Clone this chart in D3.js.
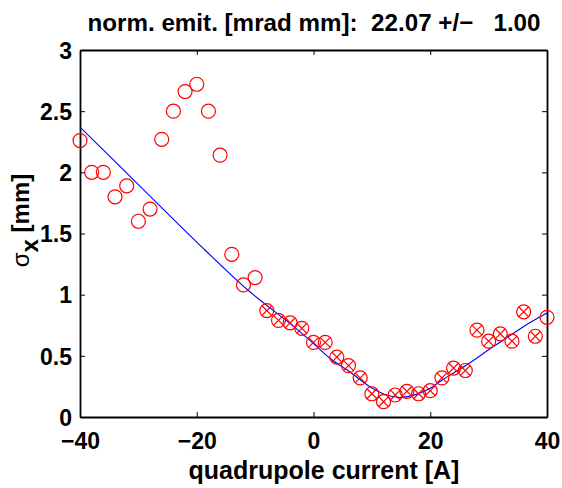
<!DOCTYPE html>
<html>
<head>
<meta charset="utf-8">
<script src="https://cdn.jsdelivr.net/npm/d3@7"></script>
<style>
  body { margin: 0; background: #fff; }
  text { font-family: "Liberation Sans", Arial, Helvetica, sans-serif; font-weight: bold; }
</style>
</head>
<body>
<div id="vis"></div>
<script>
// measured beam size vs quad current
var current = [-40, -38, -36, -34, -32, -30, -28, -26, -24, -22, -20, -18, -16, -14, -12, -10,
    -8, -6, -4, -2, 0, 2, 4, 6, 8, 10, 12, 14, 16, 18, 20, 22, 24, 26, 28, 30, 32, 34, 36, 38, 40];
var sigma = [2.26, 2.0, 2.0, 1.80, 1.89, 1.60, 1.70, 2.27, 2.50, 2.66, 2.72, 2.50, 2.14, 1.33, 1.08, 1.14,
    0.87, 0.79, 0.77, 0.725, 0.61, 0.61, 0.49, 0.42, 0.32, 0.19, 0.125, 0.18, 0.21, 0.19, 0.215, 0.32, 0.40, 0.38,
    0.71, 0.62, 0.68, 0.62, 0.86, 0.66, 0.815];
// points used in the fit get a cross
var used = [0, 0, 0, 0, 0, 0, 0, 0, 0, 0, 0, 0, 0, 0, 0, 0,
    1, 1, 1, 1, 1, 1, 1, 1, 1, 1, 1, 1, 1, 1, 1, 1, 1, 1, 1, 1, 1, 1, 1, 1, 0];

// fitted curve
var fitCurrent = [-40, -30, -20, -11.4, -2.4, 0, 2.8, 6.2, 9.6, 12.5, 14.8, 17.6, 20, 22, 24, 27, 30, 33, 36, 40];
var fitSigma = [2.37, 1.90, 1.43, 1.044, 0.70, 0.60, 0.48, 0.37, 0.25, 0.18, 0.16, 0.185, 0.235, 0.30, 0.36, 0.45, 0.55, 0.645, 0.74, 0.85];

var xTicks = [-40, -20, 0, 20, 40];
var yTicks = [0, 0.5, 1, 1.5, 2, 2.5, 3];

var titleText = 'norm. emit. [mrad mm]:  22.07 +/\u2212   1.00';

var width = 562, height = 488;
var margin = { top: 50, right: 15, bottom: 71, left: 80 };
var w = width - margin.left - margin.right;
var h = height - margin.top - margin.bottom;

var svg = d3.select('#vis')
    .append('svg')
    .attr('width', width)
    .attr('height', height)
    .append('g')
    .attr('transform', 'translate(' + margin.left + ',' + margin.top + ')');

var x_scale = d3.scaleLinear().domain([-40, 40]).range([0, w]);
var y_scale = d3.scaleLinear().domain([0, 3]).range([h, 0]);

var minus = function(d) { return d < 0 ? '\u2212' + Math.abs(d) : '' + d; };

// ticks inside on all four sides, like matlab
svg.append('g').attr('class', 'x axis')
    .attr('transform', 'translate(0,' + h + ')')
    .call(d3.axisBottom(x_scale).tickValues(xTicks).tickSizeInner(-5).tickSizeOuter(0).tickPadding(16).tickFormat(minus));
svg.append('g').attr('class', 'x axis top')
    .call(d3.axisTop(x_scale).tickValues(xTicks).tickSizeInner(-5).tickSizeOuter(0).tickFormat(''));
svg.append('g').attr('class', 'y axis')
    .call(d3.axisLeft(y_scale).tickValues(yTicks).tickSizeInner(-5).tickSizeOuter(0).tickPadding(8).tickFormat(d3.format('')));
svg.append('g').attr('class', 'y axis right')
    .attr('transform', 'translate(' + w + ',0)')
    .call(d3.axisRight(y_scale).tickValues(yTicks).tickSizeInner(-5).tickSizeOuter(0).tickFormat(''));

svg.selectAll('.axis .domain').attr('stroke', '#000').attr('stroke-width', 1.8);
svg.selectAll('.axis .tick line').attr('stroke', '#000').attr('stroke-width', 1);
svg.selectAll('.axis text').attr('font-size', 23).attr('fill', '#000')
    .style('font-family', '"Liberation Sans", Arial, sans-serif').style('font-weight', 'bold');
svg.selectAll('.x.axis .tick text').attr('dy', '0.71em');
svg.selectAll('.y.axis .tick text').attr('dy', '0.36em');

// fit line
var line = d3.line()
    .x(function(d) { return x_scale(d[0]); })
    .y(function(d) { return y_scale(d[1]); })
    .curve(d3.curveMonotoneX);

svg.append('path')
    .datum(fitCurrent.map(function(c, i) { return [c, fitSigma[i]]; }))
    .attr('d', line)
    .attr('fill', 'none')
    .attr('stroke', '#0000ff')
    .attr('stroke-width', 1.1);

// markers
var pts = current.map(function(c, i) { return { x: c, y: sigma[i], u: used[i] }; });
var r = 7;
var mk = svg.selectAll('.pt')
    .data(pts)
    .enter()
    .append('g')
    .attr('class', 'pt')
    .attr('transform', function(d) { return 'translate(' + x_scale(d.x) + ',' + y_scale(d.y) + ')'; });

mk.append('circle')
    .attr('r', r)
    .attr('fill', 'none')
    .attr('stroke', '#ff0000')
    .attr('stroke-width', 1.2);

var k = r * 0.72;
mk.filter(function(d) { return d.u; })
    .append('path')
    .attr('d', 'M' + (-k) + ',' + (-k) + 'L' + k + ',' + k + 'M' + (-k) + ',' + k + 'L' + k + ',' + (-k))
    .attr('stroke', '#ff0000')
    .attr('stroke-width', 1.2);

// labels
svg.append('text')
    .attr('x', (88 + 540) / 2 - margin.left)
    .attr('y', -19)
    .attr('text-anchor', 'middle')
    .attr('font-size', 24.2)
    .style('white-space', 'pre')
    .attr('xml:space', 'preserve')
    .text(titleText);

svg.append('text')
    .attr('x', (190 + 458) / 2 - margin.left)
    .attr('y', h + 62)
    .attr('text-anchor', 'middle')
    .attr('font-size', 25)
    .text('quadrupole current [A]');

var yl = svg.append('text')
    .attr('transform', 'translate(-51,' + (h / 2 - 13) + ') rotate(-90)')
    .attr('text-anchor', 'middle')
    .attr('font-size', 24);
yl.append('tspan').style('font-weight', 'normal').text('\u03c3');
yl.append('tspan').attr('dy', 9).text('x');
yl.append('tspan').attr('dy', -9).text(' [mm]');
</script>
</body>
</html>
